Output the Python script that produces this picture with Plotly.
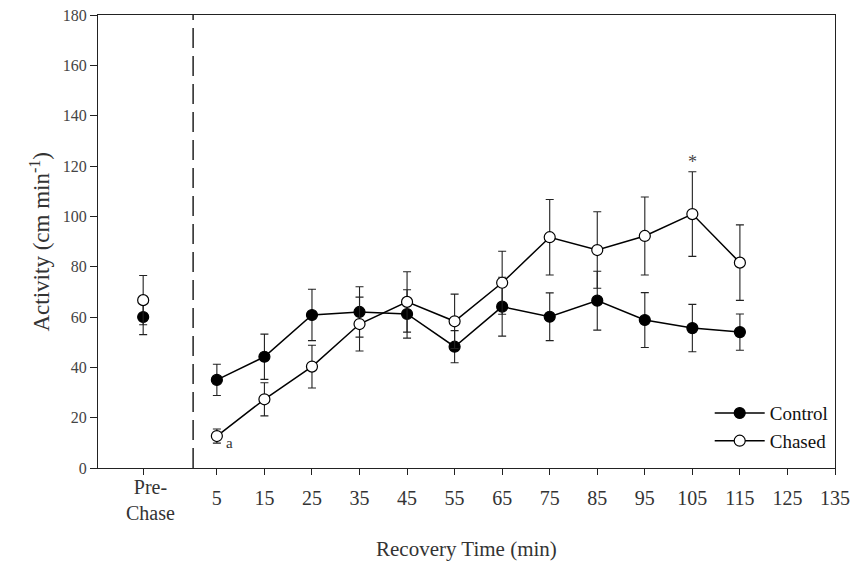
import plotly.graph_objects as go

# Data
pre_x = -10.5
times = [5, 15, 25, 35, 45, 55, 65, 75, 85, 95, 105, 115]
control_pre, control_pre_err = 60.0, 7.0
control = [35.0, 44.2, 60.8, 62.0, 61.2, 48.2, 64.1, 60.1, 66.5, 58.8, 55.6, 54.0]
control_err = [6.2, 9.0, 10.2, 10.0, 9.6, 6.4, 11.7, 9.5, 11.7, 10.9, 9.4, 7.2]
chased_pre, chased_pre_err = 66.7, 9.8
chased = [12.7, 27.3, 40.3, 57.2, 66.0, 58.3, 73.6, 91.7, 86.6, 92.2, 100.9, 81.6]
chased_err = [2.8, 6.6, 8.5, 10.7, 12.0, 10.8, 12.5, 15.0, 15.2, 15.5, 16.8, 15.0]

num_ticks = list(range(5, 136, 10))
tick_vals = [pre_x] + num_ticks
tick_text = [" "] + [str(v) for v in num_ticks]
pre_label = "Pre-<br>Chase"
x_title = "Recovery Time (min)"
y_title = "Activity (cm min<sup>-1</sup>)"

FONT = "Liberation Serif, Times New Roman, serif"

fig = go.Figure()

def add_series(name, pre_y, pre_e, ys, es, fill):
    x = [pre_x, None] + times
    y = [pre_y, None] + ys
    e = [pre_e, 0] + es
    fig.add_trace(go.Scatter(
        x=x, y=y, name=name, mode="lines+markers",
        connectgaps=False,
        line=dict(color="black", width=1.5),
        marker=dict(size=11, color=fill, line=dict(color="black", width=1.2)),
        error_y=dict(type="data", array=e, visible=True, color="#222",
                     thickness=1.1, width=4),
    ))

add_series("Control", control_pre, control_pre_err, control, control_err, "black")
add_series("Chased", chased_pre, chased_pre_err, chased, chased_err, "white")

# dashed separator at time 0
fig.add_shape(type="line", x0=0, x1=0, y0=0, y1=180, xref="x", yref="y",
              line=dict(color="black", width=1.3, dash="20px,8px"))

# annotations
fig.add_annotation(x=5, y=chased[0], text="a", showarrow=False, xshift=13, yshift=-7,
                   font=dict(family=FONT, size=15, color="#333"))
fig.add_annotation(x=105, y=chased[10] + chased_err[10], text="*", showarrow=False,
                   yshift=10, font=dict(family=FONT, size=18, color="#444"))
fig.add_annotation(x=pre_x, y=0, yref="y", text=pre_label, showarrow=False,
                   yanchor="top", yshift=-6, xshift=7, align="center",
                   font=dict(family=FONT, size=20, color="#333"))
fig.add_annotation(x=0.5, y=0, xref="paper", yref="paper", text=x_title, showarrow=False,
                   yanchor="middle", yshift=-81,
                   font=dict(family=FONT, size=21, color="#333"))
fig.add_annotation(x=0, y=0.5, xref="paper", yref="paper", text=y_title, showarrow=False,
                   xanchor="center", xshift=-58, textangle=-90,
                   font=dict(family=FONT, size=23, color="#333"))

fig.update_layout(
    width=852, height=561,
    margin=dict(l=98, r=17, t=15, b=93, autoexpand=False),
    paper_bgcolor="white", plot_bgcolor="white",
    font=dict(family=FONT, size=15, color="#333"),
    showlegend=True,
    legend=dict(x=0.83, y=0.163, xanchor="left", yanchor="top",
                bgcolor="rgba(0,0,0,0)", font=dict(family=FONT, size=19, color="#111"),
                itemwidth=50, tracegroupgap=0),
    xaxis=dict(range=[-20, 135], tickmode="array", tickvals=tick_vals, ticktext=tick_text,
               showgrid=False, zeroline=False, showline=True, linecolor="#222", linewidth=1.3,
               mirror=True, ticks="outside", ticklen=6, tickcolor="#222", automargin=False,
               ticklabelstandoff=6,
               tickfont=dict(family=FONT, size=20, color="#333")),
    yaxis=dict(range=[0, 180], tickmode="array", tickvals=list(range(0, 181, 20)),
               showgrid=False, zeroline=False, showline=True, linecolor="#222", linewidth=1.3,
               mirror=True, ticks="outside", ticklen=7, tickcolor="#222", automargin=False,
               tickfont=dict(family=FONT, size=16, color="#444")),
)

fig.write_html("out.html", config={"displayModeBar": False},
               post_script="document.body.style.margin='0';")
